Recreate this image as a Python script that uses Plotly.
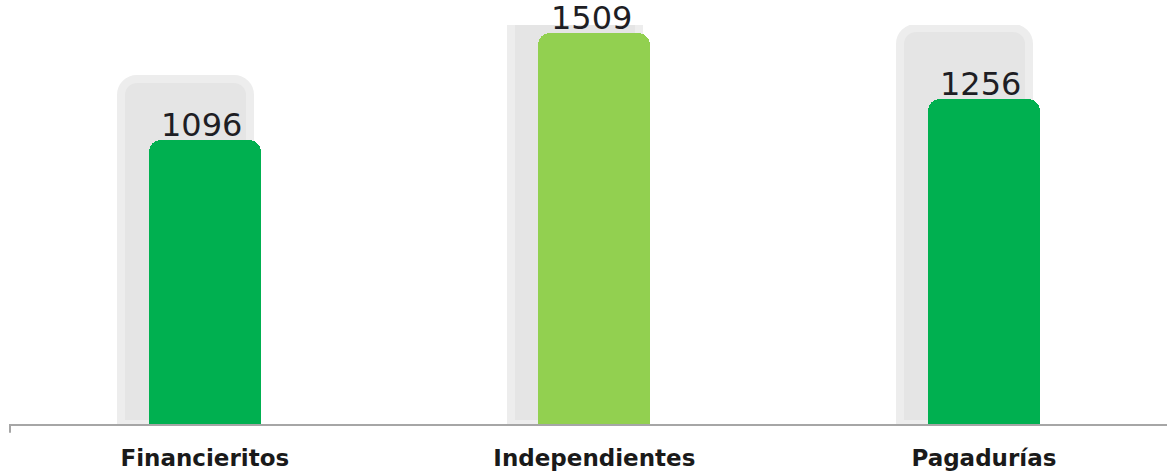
import plotly.graph_objects as go

CATEGORIES = ["Financieritos", "Independientes", "Pagadurías"]
VALUES = [1096, 1509, 1256]
SHADOW_VALUES = [1330, 1600, 1530]
BAR_COLORS = ["#00B050", "#92D050", "#00B050"]

X_POS = list(range(len(CATEGORIES)))
BAR_WIDTH = 0.288
SHADOW_WIDTH = 0.33
SHADOW_SHIFT = -0.05

fig = go.Figure()

# soft grey "shadow" behind each bar
fig.add_trace(
    go.Bar(
        x=X_POS,
        y=SHADOW_VALUES,
        width=SHADOW_WIDTH,
        offset=-SHADOW_WIDTH / 2 + SHADOW_SHIFT,
        marker=dict(
            color="#e5e5e5",
            cornerradius=16,
            line=dict(color="#ededed", width=8),
        ),
        hoverinfo="skip",
        showlegend=False,
    )
)

fig.add_trace(
    go.Bar(
        x=X_POS,
        y=VALUES,
        width=BAR_WIDTH,
        offset=-BAR_WIDTH / 2,
        marker=dict(color=BAR_COLORS, cornerradius=12, line=dict(width=0)),
        showlegend=False,
    )
)

# value labels sitting right on top of the bars
for x, v in zip(X_POS, VALUES):
    fig.add_annotation(
        x=x,
        y=v,
        text=str(v),
        showarrow=False,
        yanchor="bottom",
        xshift=-3,
        yshift=-5,
        borderpad=0,
        font=dict(family="DejaVu Sans", size=32, color="#1e1e24"),
    )

fig.update_layout(
    width=1167,
    height=471,
    barmode="overlay",
    bargap=0,
    plot_bgcolor="white",
    paper_bgcolor="white",
    margin=dict(l=10, r=0, t=25, b=47),
)
fig.update_xaxes(
    range=[-0.5, 2.47],
    tickvals=X_POS,
    ticktext=CATEGORIES,
    tickfont=dict(family="DejaVu Sans", size=23, color="#1a1a1a", weight="bold"),
    showline=True,
    linecolor="#a6a6a6",
    linewidth=2,
    ticks="outside",
    ticklen=12,
    tickcolor="rgba(0,0,0,0)",
    showgrid=False,
    zeroline=False,
)
fig.update_yaxes(range=[0, 1540], visible=False, showgrid=False)

# little tick at the left end of the base line
fig.add_shape(
    type="line",
    xref="x domain",
    yref="y domain",
    x0=0,
    x1=0,
    y0=0,
    y1=-0.022,
    line=dict(color="#a6a6a6", width=2),
)

fig.write_html(
    "out.html",
    config={"displayModeBar": False},
    post_script="document.body.style.margin = '0';",
)
